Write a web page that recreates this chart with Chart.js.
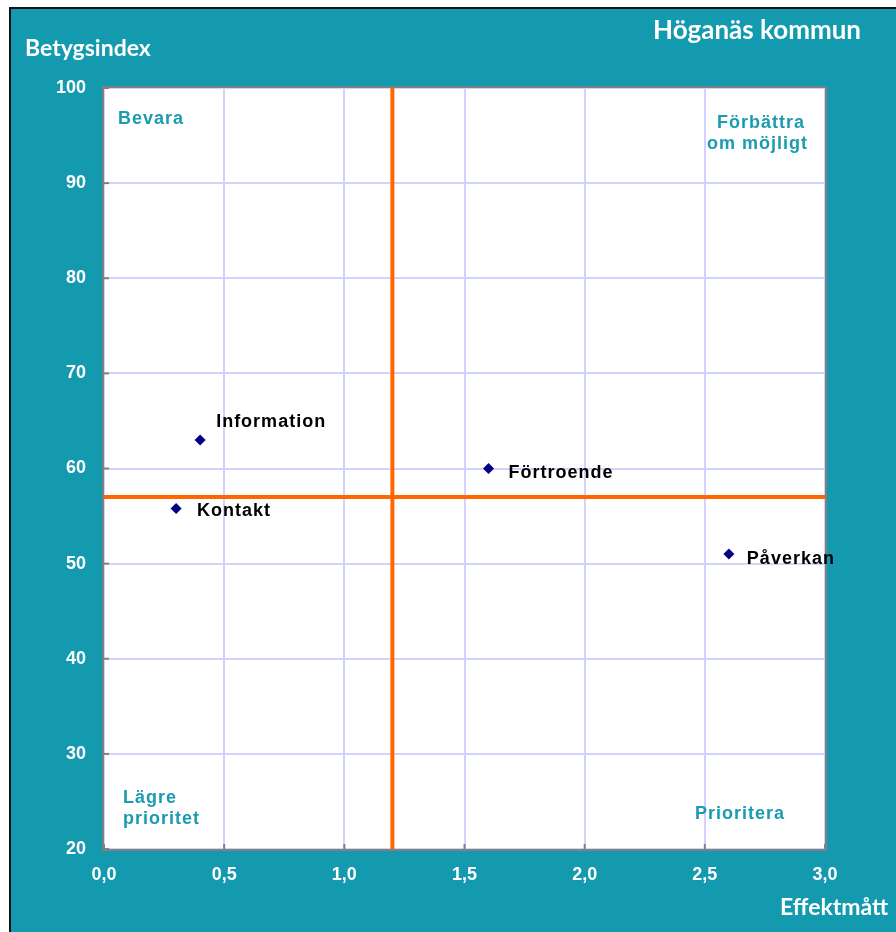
<!DOCTYPE html>
<html><head><meta charset="utf-8">
<script src="https://cdn.jsdelivr.net/npm/chart.js@4/dist/chart.umd.min.js"></script>
<style>html,body{margin:0;padding:0;background:#fff;}canvas{display:block}</style>
</head><body>
<canvas id="c" width="896" height="932"></canvas>
<script>
// ---- data ----
const categories = ['Information', 'Kontakt', 'Förtroende', 'Påverkan'];
const effektValues = [0.4, 0.3, 1.6, 2.6];     // x: Effektmått
const betygValues = [63, 55.8, 60, 51];          // y: Betygsindex
const xTicks = [0, 0.5, 1.0, 1.5, 2.0, 2.5, 3.0];
const yTicks = [20, 30, 40, 50, 60, 70, 80, 90, 100];
const meanEffekt = 1.2;   // vertical divider
const meanBetyg = 57;     // horizontal divider
const titleText = 'Höganäs kommun';
const yTitle = 'Betygsindex';
const xTitle = 'Effektmått';

// ---- styles ----
const TEAL = '#139aaf';
const QTEXT = '#1b9bb0';
const labelOffsets = [[16, -13], [21, 8], [20, 9], [18, 10]];

const xMin = xTicks[0], xMax = xTicks[xTicks.length - 1];
const yMin = yTicks[0], yMax = yTicks[yTicks.length - 1];

const decorPlugin = {
  id: 'decor',
  beforeDraw(chart) {
    const ctx = chart.ctx, W = chart.width, H = chart.height, a = chart.chartArea;
    ctx.save();
    ctx.fillStyle = '#ffffff'; ctx.fillRect(0, 0, W, H);
    ctx.fillStyle = '#111111'; ctx.fillRect(9, 7, W - 9, H - 7);
    ctx.fillStyle = TEAL; ctx.fillRect(11, 9, W - 11, H - 9);
    ctx.fillStyle = '#ffffff'; ctx.fillRect(a.left, a.top, a.right - a.left, a.bottom - a.top);
    // titles
    ctx.fillStyle = '#ffffff';
    ctx.textBaseline = 'alphabetic';
    ctx.textAlign = 'left';
    ctx.font = 'bold 26px Lato';
    ctx.fillText(titleText, 653, 39);
    ctx.font = 'bold 23px Lato';
    ctx.fillText(yTitle, 25, 56);
    ctx.fillText(xTitle, 780, 915);
    ctx.restore();
  },
  afterDatasetsDraw(chart) {
    const ctx = chart.ctx, a = chart.chartArea;
    const xs = chart.scales.x, ys = chart.scales.y;
    ctx.save();
    // inside tick marks
    ctx.strokeStyle = '#808080'; ctx.lineWidth = 2;
    xTicks.forEach(v => { const px = xs.getPixelForValue(v); ctx.beginPath(); ctx.moveTo(px, a.bottom); ctx.lineTo(px, a.bottom - 5); ctx.stroke(); });
    yTicks.forEach(v => { const py = ys.getPixelForValue(v); ctx.beginPath(); ctx.moveTo(a.left, py); ctx.lineTo(a.left + 5, py); ctx.stroke(); });
    // plot border
    ctx.strokeRect(a.left - 1, a.top - 1, a.right - a.left + 2, a.bottom - a.top + 2);
    // quadrant labels
    ctx.fillStyle = QTEXT;
    ctx.font = 'bold 18px "Liberation Sans", Arial';
    ctx.letterSpacing = '1px';
    ctx.textBaseline = 'alphabetic';
    ctx.textAlign = 'center';
    ctx.fillText('Bevara', a.left + 47, a.top + 36);
    ctx.fillText('Prioritera', a.right - 85, a.bottom - 30);
    ctx.textAlign = 'right';
    ctx.fillText('Förbättra', a.right - 20, a.top + 40);
    ctx.fillText('om möjligt', a.right - 17, a.top + 61);
    ctx.textAlign = 'left';
    ctx.fillText('Lägre', a.left + 19, a.bottom - 46);
    ctx.fillText('prioritet', a.left + 19, a.bottom - 25);
    // point labels
    ctx.fillStyle = '#000000';
    const meta = chart.getDatasetMeta(0);
    meta.data.forEach((pt, i) => {
      const o = labelOffsets[i];
      ctx.fillText(categories[i], pt.x + o[0], pt.y + o[1]);
    });
    ctx.restore();
  }
};

new Chart(document.getElementById('c'), {
  type: 'scatter',
  data: {
    datasets: [
      {
        label: 'Områden',
        data: categories.map((c, i) => ({ x: effektValues[i], y: betygValues[i] })),
        pointStyle: 'rectRot',
        pointRadius: 5.5,
        pointHoverRadius: 5.5,
        backgroundColor: '#000080',
        borderColor: '#000080',
        borderWidth: 0,
        order: 0
      },
      {
        label: 'Medel effekt',
        data: [{ x: meanEffekt, y: yMin }, { x: meanEffekt, y: yMax }],
        showLine: true, pointRadius: 0, borderColor: '#ff6600', borderWidth: 4, order: 1
      },
      {
        label: 'Medel betyg',
        data: [{ x: xMin, y: meanBetyg }, { x: xMax, y: meanBetyg }],
        showLine: true, pointRadius: 0, borderColor: '#ff6600', borderWidth: 4, order: 1
      }
    ]
  },
  options: {
    responsive: false,
    animation: false,
    devicePixelRatio: 1,
    layout: { padding: { left: 0, top: 88, right: 71, bottom: 0 } },
    plugins: { legend: { display: false }, tooltip: { enabled: false } },
    scales: {
      x: {
        type: 'linear', min: xMin, max: xMax,
        afterFit: s => { s.height = 83; },
        afterBuildTicks: s => { s.ticks = xTicks.map(v => ({ value: v })); },
        ticks: {
          color: '#ffffff', padding: 15, maxRotation: 0,
          font: { family: '"Liberation Sans", Arial', size: 18, weight: 'bold' },
          callback: v => Number(v).toFixed(1).replace('.', ',')
        },
        grid: { color: '#d2d2ff', lineWidth: 2, drawTicks: false, tickLength: 0 },
        border: { display: false }
      },
      y: {
        type: 'linear', min: yMin, max: yMax,
        afterFit: s => { s.width = 104; },
        afterBuildTicks: s => { s.ticks = yTicks.map(v => ({ value: v })); },
        ticks: {
          color: '#ffffff', padding: 18,
          font: { family: '"Liberation Sans", Arial', size: 18, weight: 'bold' },
          callback: v => String(v)
        },
        grid: { color: '#d2d2ff', lineWidth: 2, drawTicks: false, tickLength: 0 },
        border: { display: false }
      }
    }
  },
  plugins: [decorPlugin]
});
</script>
</body></html>
